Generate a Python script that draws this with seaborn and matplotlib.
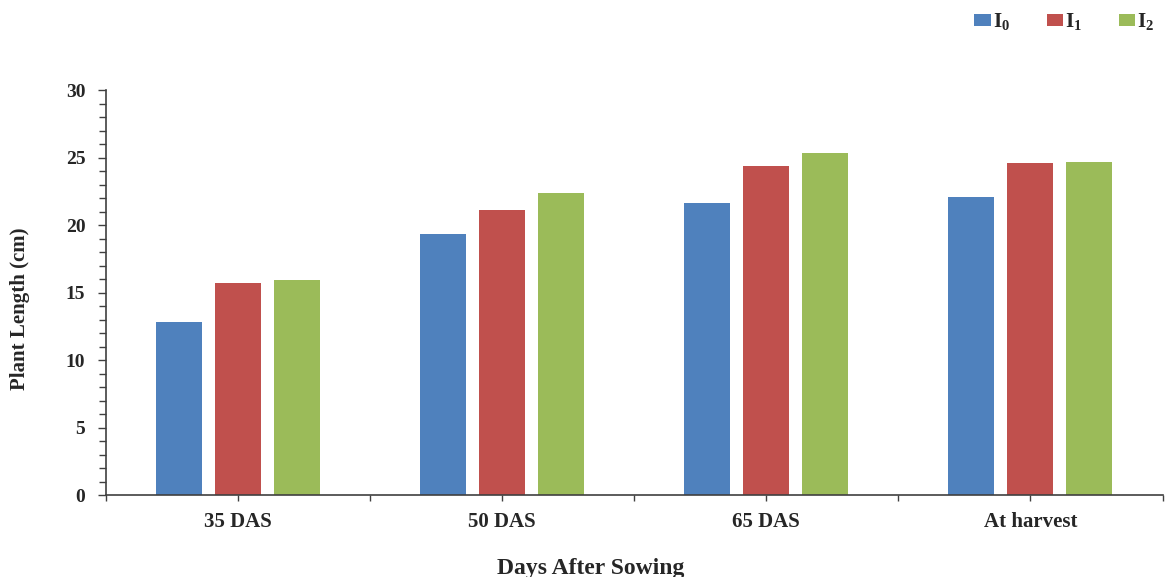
import pandas as pd
import matplotlib
matplotlib.use("Agg")
import matplotlib.pyplot as plt
from matplotlib.ticker import MultipleLocator, FixedLocator
import seaborn as sns

# values
stages = ["35 DAS", "50 DAS", "65 DAS", "At harvest"]
treatments = ["I0", "I1", "I2"]
i0_length = [12.8, 19.3, 21.6, 22.1]
i1_length = [15.7, 21.1, 24.4, 24.6]
i2_length = [15.9, 22.4, 25.3, 24.7]
legend_labels = [r"$\mathbf{I_0}$", r"$\mathbf{I_1}$", r"$\mathbf{I_2}$"]
colors = ["#4F81BD", "#C0504D", "#9BBB59"]

sns.set_theme(style="white")
plt.rcParams["font.family"] = ["Liberation Serif", "DejaVu Serif"]
plt.rcParams["font.weight"] = "bold"
plt.rcParams["mathtext.fontset"] = "custom"
plt.rcParams["mathtext.rm"] = "Liberation Serif"
plt.rcParams["mathtext.bf"] = "Liberation Serif:bold"

df = pd.DataFrame({
    "stage": stages * 3,
    "treatment": [t for t in treatments for _ in stages],
    "length": i0_length + i1_length + i2_length,
})

fig = plt.figure(figsize=(11.66, 5.77), dpi=100)
ax = fig.add_axes([0.091, 0.142, 0.906, 0.702])

sns.barplot(data=df, x="stage", y="length", hue="treatment", order=stages,
            hue_order=treatments, palette=colors, saturation=1,
            width=0.67, gap=0.22, linewidth=0, ax=ax)

handles, _ = ax.get_legend_handles_labels()
ax.get_legend().remove()
fig.legend(handles, legend_labels, loc="upper right", bbox_to_anchor=(1.0, 1.0),
           ncol=3, frameon=False, fontsize=15, handlelength=0.8, handleheight=0.5,
           handletextpad=0.1, columnspacing=1.75, borderaxespad=0.15)

ax.set_xlim(-0.5, 3.5)
ax.set_ylim(0, 30)
ax.set_xticks(range(len(stages)))
ax.set_xticklabels(stages)
ax.yaxis.set_major_locator(MultipleLocator(5))
ax.yaxis.set_minor_locator(MultipleLocator(1))
ax.xaxis.set_minor_locator(FixedLocator([-0.5, 0.5, 1.5, 2.5, 3.5]))

sns.despine(ax=ax)
for side in ["left", "bottom"]:
    ax.spines[side].set_color("#404040")
    ax.spines[side].set_linewidth(1.2)

ax.tick_params(axis="y", which="major", direction="out", length=6, width=1,
               color="#404040", left=True, labelsize=14, pad=9)
ax.tick_params(axis="y", which="minor", direction="out", length=5, width=1,
               color="#404040", left=True)
ax.tick_params(axis="x", which="both", direction="out", length=4, width=1,
               color="#404040", bottom=True, labelsize=15, pad=8)
for t in ax.xaxis.get_major_ticks():
    t.tick1line.set_visible(True)
    t.tick1line.set_markersize(4)
for lbl in ax.get_xticklabels() + ax.get_yticklabels():
    lbl.set_fontweight("bold")

ax.set_ylabel("Plant Length (cm)", fontsize=15, fontweight="bold")
ax.yaxis.set_label_coords(-0.072, 0.46)
ax.set_xlabel("Days After Sowing", fontsize=17, fontweight="bold")
ax.xaxis.set_label_coords(0.459, -0.155)

fig.savefig("out.png", dpi=100)
plt.close(fig)
